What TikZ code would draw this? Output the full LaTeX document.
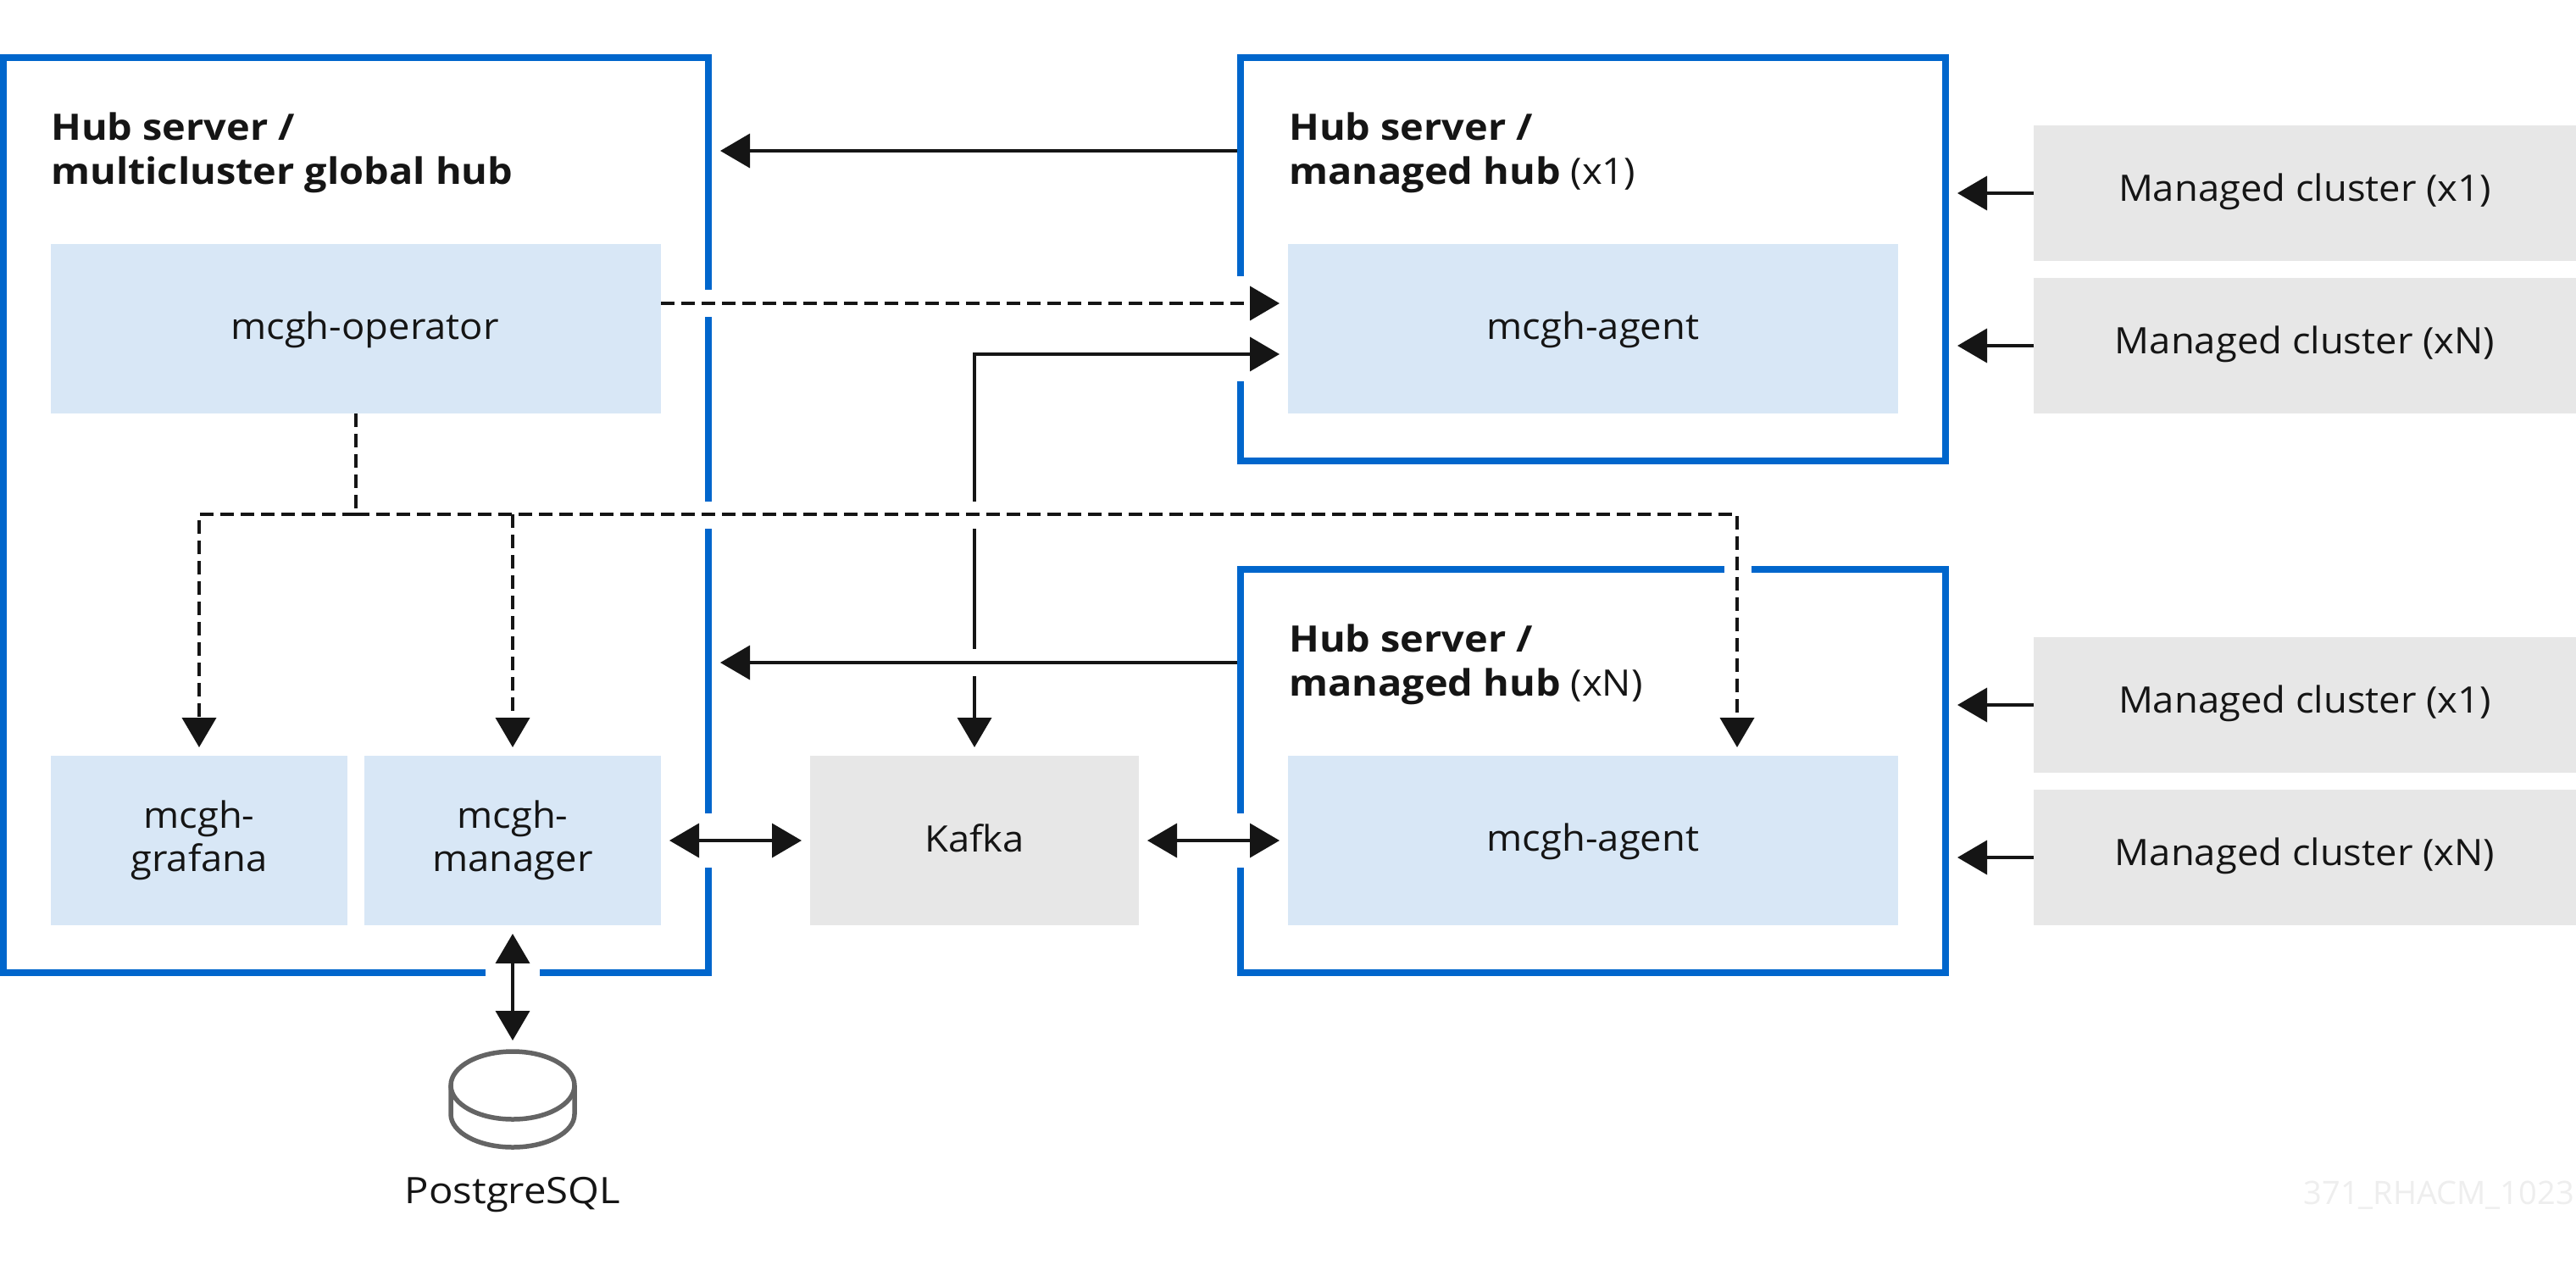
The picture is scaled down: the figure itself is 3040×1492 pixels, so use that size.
\documentclass[tikz,border=0pt]{standalone}
\usepackage{fontspec}
\setmainfont{Open Sans}[FakeStretch=1.055,BoldFeatures={FakeStretch=1.09}]
\newfontfamily\dbfont{Open Sans}[FakeStretch=1.1]
\newfontfamily\markfont{Open Sans}
\usetikzlibrary{arrows.meta}
\definecolor{hubblue}{HTML}{0066CC}
\definecolor{paleblue}{HTML}{D8E7F6}
\definecolor{palegrey}{HTML}{E7E7E7}
\definecolor{inkblack}{HTML}{151515}
\definecolor{dbgrey}{HTML}{646464}
\definecolor{markgrey}{HTML}{EEEEEE}
\newcommand{\bodyfont}{\fontsize{43}{51}\selectfont}
\newcommand{\headfont}{\fontsize{43}{52}\selectfont}
\tikzset{
  x=1pt,y=-1pt,
  every node/.style={text=inkblack,font=\bodyfont},
  hubbox/.style={draw=hubblue,line width=8pt,fill=none,inner sep=0pt},
  compbox/.style={fill=paleblue,inner sep=0pt,outer sep=0pt,align=center},
  greybox/.style={fill=palegrey,inner sep=0pt,outer sep=0pt,align=center},
  oneline/.style={text height=33pt,text depth=9pt},
  headtext/.style={anchor=base west,inner sep=0pt,align=left,font=\headfont},
  link/.style={draw=inkblack,line width=3.8pt,line cap=butt,-{Triangle[length=35pt,width=40pt]}},
  bilink/.style={link,{Triangle[length=35pt,width=40pt]}-{Triangle[length=35pt,width=40pt]}},
  dashlink/.style={link,line width=4pt,dash pattern=on 16pt off 8pt},
  dashplain/.style={draw=inkblack,line width=4pt,dash pattern=on 16pt off 8pt},
  gap/.style={fill=white,draw=none},
  off/.style={shorten >=10pt},
  offboth/.style={shorten >=10pt,shorten <=10pt},
}
\begin{document}
\begin{tikzpicture}
\useasboundingbox[fill=white] (0,0) rectangle (3040,1492);

% hub frames
\node[hubbox,minimum width=832pt,minimum height=1080pt] (hubA) at (420,608) {};
\node[hubbox,minimum width=832pt,minimum height=476pt] (hubB) at (1880,306) {};
\node[hubbox,minimum width=832pt,minimum height=476pt] (hubC) at (1880,910) {};

% openings in the frames
\fill[gap] (830,342) rectangle (842,374);
\fill[gap] (830,592) rectangle (842,624);
\fill[gap] (830,960) rectangle (842,1024);
\fill[gap] (573,1142) rectangle (637,1154);
\fill[gap] (1458,326) rectangle (1470,450);
\fill[gap] (1458,960) rectangle (1470,1024);
\fill[gap] (2035,666) rectangle (2067,678);

% headings
\node[headtext] (headA) at (60,217.5) {\bfseries Hub server /\\\bfseries multicluster global hub};
\node[headtext] (headB) at (1521,217.5) {\bfseries Hub server /\\\textbf{managed hub} (x1)};
\node[headtext] (headC) at (1521,821.5) {\bfseries Hub server /\\\textbf{managed hub} (xN)};

% components
\node[compbox,oneline,minimum width=720pt,minimum height=200pt] (oper) at (420,388) {\hspace*{21pt}mcgh-operator};
\node[compbox,minimum width=350pt,minimum height=200pt] (graf) at (235,992) {mcgh-\\grafana};
\node[compbox,minimum width=350pt,minimum height=200pt] (mgr) at (605,992) {mcgh-\\manager};
\node[compbox,oneline,minimum width=720pt,minimum height=200pt] (agentA) at (1880,388) {mcgh-agent};
\node[compbox,oneline,minimum width=720pt,minimum height=200pt] (agentB) at (1880,992) {mcgh-agent};
\node[greybox,text height=33pt,text depth=6pt,minimum width=388pt,minimum height=200pt] (kafka) at (1150,992) {Kafka};

% managed clusters
\tikzset{cluster/.style={greybox,text height=29pt,text depth=11pt,minimum width=640pt,minimum height=160pt}}
\node[cluster] (mc1) at (2720,228) {Managed cluster (x1)};
\node[cluster] (mc2) at (2720,408) {Managed cluster (xN)};
\node[cluster] (mc3) at (2720,832) {Managed cluster (x1)};
\node[cluster] (mc4) at (2720,1012) {Managed cluster (xN)};

% database
\coordinate (db) at (605,1238);
\draw[dbgrey,line width=5.5pt] (605,1281) ellipse [x radius=73,y radius=40];
\draw[dbgrey,line width=5.5pt] (532,1281) -- (532,1315) arc [start angle=180,end angle=0,x radius=73,y radius=39] -- (678,1281);
\node[anchor=base,inner sep=0pt] (pg) at (605,1420) {\dbfont PostgreSQL};

% watermark
\node[anchor=base east,inner sep=0pt,text=markgrey,font=\markfont\fontsize{38}{46}\selectfont] (mark) at (3038,1421) {371\_RHACM\_1023};

% solid connectors
\coordinate (rowB) at (0,178);
\coordinate (rowC) at (0,782);
\draw[bilink,offboth] (kafka.north) |- ([yshift=-30pt]agentA.west);
\fill[gap] (1146,592) rectangle (1154,624);
\fill[gap] (1146,766) rectangle (1154,798);
\draw[link,off] (hubB.west |- rowB) -- (hubA.east |- rowB);
\draw[link,off] (hubC.west |- rowC) -- (hubA.east |- rowC);
\draw[link,off] (mc1.west) -- (mc1.west -| hubB.east);
\draw[link,off] (mc2.west) -- (mc2.west -| hubB.east);
\draw[link,off] (mc3.west) -- (mc3.west -| hubC.east);
\draw[link,off] (mc4.west) -- (mc4.west -| hubC.east);
\draw[bilink,offboth] (mgr.east) -- (kafka.west);
\draw[bilink,offboth] (kafka.east) -- (agentB.west);
\draw[bilink,offboth] (mgr.south) -- (db);

% dashed connectors
\coordinate (trunk) at (420,607);
\draw[dashlink,off] ([yshift=30pt]oper.east) -- ([yshift=30pt]agentA.west);
\draw[dashplain] (oper.south) -- (trunk);
\draw[dashlink,off] (trunk) -| (graf.north);
\draw[dashlink,off] (trunk) -| ([xshift=170pt]agentB.north);
\draw[dashlink,off] (trunk -| mgr.north) -- (mgr.north);
\end{tikzpicture}
\end{document}
